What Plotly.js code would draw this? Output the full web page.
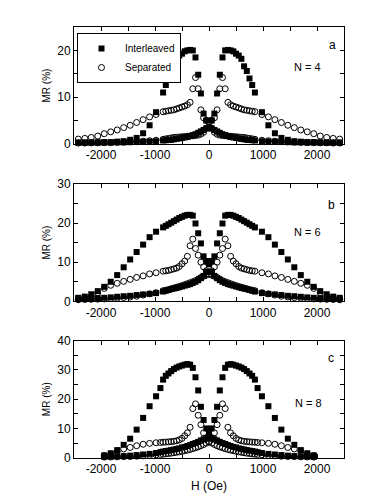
<!DOCTYPE html>
<html>
<head>
<meta charset="utf-8">
<script src="https://cdn.plot.ly/plotly-3.0.1.min.js"></script>
<style>html,body{margin:0;padding:0;background:#fff;}#chart{width:382px;height:494px;}</style>
</head>
<body>
<div id="chart"></div>
<script>
// Field grid (Oe) for panels a and b
var H_ab = [2420, 2300, 2180, 2060, 1940, 1820, 1700, 1580, 1460, 1340, 1220, 1100, 980,
  850, 800, 750, 700, 650, 600, 550, 500, 450, 400, 350, 300, 250, 200, 150, 100, 50,
  0,
  -50, -100, -150, -200, -250, -300, -350, -400, -450, -500, -550, -600, -650, -700, -750, -800, -850,
  -980, -1100, -1220, -1340, -1460, -1580, -1700, -1820, -1940, -2060, -2180, -2300, -2420];
// Field grid (Oe) for panel c
var H_c = [1940, 1820, 1700, 1580, 1460, 1340, 1220, 1100, 980,
  900, 850, 800, 750, 700, 650, 600, 550, 500, 450, 400, 350, 300, 250, 200, 150, 100, 50,
  0,
  -50, -100, -150, -200, -250, -300, -350, -400, -450, -500, -550, -600, -650, -700, -750, -800, -850, -900,
  -980, -1100, -1220, -1340, -1460, -1580, -1700, -1820, -1940];

// Panel a (N = 4)
var a_inter_down = [0.3,0.3,0.3,0.3,0.3,0.3,0.35,0.35,0.4,0.45,0.5,0.55,0.6,
  0.75,0.8,0.85,0.9,1.0,1.1,1.2,1.3,1.4,1.5,1.7,1.9,2.1,2.4,2.7,3.0,3.3,
  3.5,
  5.0,6.5,10.8,14.8,18.5,20.0,20.1,20.0,19.8,19.3,18.9,18.2,16.6,15.6,14.0,12.6,11.0,
  6.8,4.0,2.3,1.3,0.9,0.6,0.5,0.4,0.4,0.35,0.3,0.3,0.3];
var a_inter_up = [0.3,0.3,0.3,0.35,0.4,0.4,0.5,0.6,0.9,1.3,2.3,4.0,6.8,
  11.0,12.6,14.0,15.6,16.6,18.2,18.9,19.3,19.8,20.0,20.1,20.0,18.5,14.8,10.8,6.5,5.0,
  3.5,
  3.3,3.0,2.7,2.4,2.1,1.9,1.7,1.5,1.4,1.3,1.2,1.1,1.0,0.9,0.85,0.8,0.75,
  0.6,0.55,0.5,0.45,0.4,0.35,0.35,0.3,0.3,0.3,0.3,0.3,0.3];
var a_sep_down = [0.2,0.2,0.25,0.25,0.3,0.3,0.35,0.4,0.45,0.5,0.6,0.7,0.8,
  1.0,1.1,1.2,1.3,1.4,1.45,1.5,1.55,1.6,1.65,1.7,1.75,1.8,1.9,2.1,2.5,3.4,
  4.75,
  5.1,5.6,7.3,11.8,14.2,11.8,8.9,8.4,8.1,7.9,7.7,7.5,7.3,7.2,7.1,7.0,6.9,
  6.3,5.8,5.2,4.6,4.0,3.5,3.0,2.6,2.2,1.7,1.4,1.2,1.05];
var a_sep_up = [1.05,1.2,1.4,1.7,2.2,2.6,3.0,3.5,4.0,4.6,5.2,5.8,6.3,
  6.9,7.0,7.1,7.2,7.3,7.5,7.7,7.9,8.1,8.4,8.9,11.8,14.2,11.8,7.3,5.6,5.1,
  4.75,
  3.4,2.5,2.1,1.9,1.8,1.75,1.7,1.65,1.6,1.55,1.5,1.45,1.4,1.3,1.2,1.1,1.0,
  0.8,0.7,0.6,0.5,0.45,0.4,0.35,0.3,0.3,0.25,0.25,0.2,0.2];

// Panel b (N = 6)
var b_inter_down = [0.6,0.7,0.75,0.8,0.9,1.0,1.15,1.3,1.4,1.6,1.75,1.9,2.1,
  2.5,2.7,2.9,3.1,3.25,3.4,3.6,3.8,4.0,4.2,4.4,4.7,5.0,5.4,5.9,6.5,7.5,
  9.5,
  10.3,11.5,14.8,17.4,19.9,21.9,22.1,22.1,21.9,21.6,21.3,20.9,20.5,20.1,19.7,19.3,18.9,
  17.8,16.4,14.5,12.6,10.7,8.7,6.7,5.0,3.7,2.6,1.8,1.2,0.9];
var b_inter_up = [0.9,1.2,1.8,2.6,3.7,5.0,6.7,8.7,10.7,12.6,14.5,16.4,17.8,
  18.9,19.3,19.7,20.1,20.5,20.9,21.3,21.6,21.9,22.1,22.1,21.9,19.9,17.4,14.8,11.5,10.3,
  9.5,
  7.5,6.5,5.9,5.4,5.0,4.7,4.4,4.2,4.0,3.8,3.6,3.4,3.25,3.1,2.9,2.7,2.5,
  2.1,1.9,1.75,1.6,1.4,1.3,1.15,1.0,0.9,0.8,0.75,0.7,0.6];
var b_sep_down = [0.4,0.45,0.5,0.55,0.6,0.7,0.8,0.95,1.1,1.3,1.6,1.9,2.2,
  2.7,2.85,3.0,3.2,3.4,3.6,3.8,4.0,4.25,4.5,4.75,5.0,5.3,5.7,6.1,6.4,6.7,
  7.0,
  7.8,8.8,10.0,11.8,13.5,15.9,14.2,11.5,10.3,9.6,8.9,8.5,8.3,8.1,7.9,7.8,7.7,
  7.3,7.0,6.5,6.1,5.6,5.1,4.6,4.1,3.3,2.2,1.3,0.8,0.5];
var b_sep_up = [0.5,0.8,1.3,2.2,3.3,4.1,4.6,5.1,5.6,6.1,6.5,7.0,7.3,
  7.7,7.8,7.9,8.1,8.3,8.5,8.9,9.6,10.3,11.5,14.2,15.9,13.5,11.8,10.0,8.8,7.8,
  7.0,
  6.7,6.4,6.1,5.7,5.3,5.0,4.75,4.5,4.25,4.0,3.8,3.6,3.4,3.2,3.0,2.85,2.7,
  2.2,1.9,1.6,1.3,1.1,0.95,0.8,0.7,0.6,0.55,0.5,0.45,0.4];

// Panel c (N = 8)
var c_inter_down = [0.3,0.35,0.45,0.55,0.7,0.9,1.1,1.3,1.6,
  1.9,2.1,2.3,2.4,2.6,2.8,3.0,3.2,3.5,3.7,4.0,4.3,4.7,5.0,5.4,5.9,6.3,6.8,
  8.5,
  10.0,12.9,17.4,23.0,27.5,30.7,31.8,32.0,31.8,31.5,31.2,30.8,30.3,29.6,28.8,28.0,26.7,23.8,
  21.0,17.6,13.6,9.6,6.5,4.4,2.6,1.5,0.8];
var c_inter_up = [0.8,1.5,2.6,4.4,6.5,9.6,13.6,17.6,21.0,
  23.8,26.7,28.0,28.8,29.6,30.3,30.8,31.2,31.5,31.8,32.0,31.8,30.7,27.5,23.0,17.4,12.9,10.0,
  8.5,
  6.8,6.3,5.9,5.4,5.0,4.7,4.3,4.0,3.7,3.5,3.2,3.0,2.8,2.6,2.4,2.3,2.1,1.9,
  1.6,1.3,1.1,0.9,0.7,0.55,0.45,0.35,0.3];
var c_sep_down = [0.2,0.25,0.3,0.35,0.4,0.5,0.65,0.8,1.0,
  1.1,1.2,1.3,1.4,1.55,1.7,1.85,2.0,2.2,2.4,2.6,2.8,3.1,3.4,3.7,4.1,4.5,5.0,
  5.5,
  6.5,8.5,11.3,14.5,18.4,16.8,10.4,8.5,7.5,6.6,6.1,5.8,5.6,5.5,5.4,5.35,5.3,5.2,
  5.1,4.9,4.6,4.1,3.5,3.0,2.2,1.3,0.7];
var c_sep_up = [0.7,1.3,2.2,3.0,3.5,4.1,4.6,4.9,5.1,
  5.2,5.3,5.35,5.4,5.5,5.6,5.8,6.1,6.6,7.5,8.5,10.4,16.8,18.4,14.5,11.3,8.5,6.5,
  5.5,
  5.0,4.5,4.1,3.7,3.4,3.1,2.8,2.6,2.4,2.2,2.0,1.85,1.7,1.55,1.4,1.3,1.2,1.1,
  1.0,0.8,0.65,0.5,0.4,0.35,0.3,0.25,0.2];

var seriesNames = ["Interleaved", "Separated"];
var panelLabels = ["a", "b", "c"];
var panelN = ["N = 4", "N = 6", "N = 8"];
var xTickVals = [-2500, -2000, -1500, -1000, -500, 0, 500, 1000, 1500, 2000, 2500];
var xTickText = ["", "-2000", "", "-1000", "", "0", "", "1000", "", "2000", ""];
var yTickVals_a = [0, 5, 10, 15, 20, 25];
var yTickText_a = ["0", "", "10", "", "20", ""];
var yTickVals_b = [0, 5, 10, 15, 20, 25, 30];
var yTickText_b = ["0", "", "10", "", "20", "", "30"];
var yTickVals_c = [0, 5, 10, 15, 20, 25, 30, 35, 40];
var yTickText_c = ["0", "", "10", "", "20", "", "30", "", "40"];

var FONT = "Arial, 'Liberation Sans', Helvetica, sans-serif";
var sq = {symbol: "square", size: 6, color: "#000"};
var ci = {symbol: "circle-open", size: 6, color: "#000", line: {width: 1, color: "#000"}};

function tr(x, y, xa, ya, marker, name, showleg) {
  return {x: x, y: y, xaxis: xa, yaxis: ya, type: "scatter", mode: "markers",
    marker: marker, name: name, legendgroup: name, showlegend: showleg, cliponaxis: false,
    hoverinfo: "skip"};
}

var data = [
  tr(H_ab, a_inter_down, "x", "y", sq, seriesNames[0], true),
  tr(H_ab, a_sep_down, "x", "y", ci, seriesNames[1], true),
  tr(H_ab, a_inter_up, "x", "y", sq, seriesNames[0], false),
  tr(H_ab, a_sep_up, "x", "y", ci, seriesNames[1], false),
  tr(H_ab, b_inter_down, "x2", "y2", sq, seriesNames[0], false),
  tr(H_ab, b_inter_up, "x2", "y2", sq, seriesNames[0], false),
  tr(H_ab, b_sep_down, "x2", "y2", ci, seriesNames[1], false),
  tr(H_ab, b_sep_up, "x2", "y2", ci, seriesNames[1], false),
  tr(H_c, c_inter_down, "x3", "y3", sq, seriesNames[0], false),
  tr(H_c, c_inter_up, "x3", "y3", sq, seriesNames[0], false),
  tr(H_c, c_sep_down, "x3", "y3", ci, seriesNames[1], false),
  tr(H_c, c_sep_up, "x3", "y3", ci, seriesNames[1], false)
];

var xdom = [74/382, 344/382];
function xax(anchor, title) {
  var o = {domain: xdom, range: [-2500, 2500], anchor: anchor, tickmode: "array",
    tickvals: xTickVals, ticktext: xTickText, ticks: "inside", ticklen: 4, tickcolor: "#000",
    mirror: "ticks", showline: true, linecolor: "#000", linewidth: 1, showgrid: false, zeroline: false,
    tickfont: {family: FONT, size: 12, color: "#000"}, fixedrange: true};
  if (title) o.title = {text: title, font: {family: FONT, size: 12, color: "#000"}, standoff: 6};
  return o;
}
function yax(anchor, dom, rng, tv, tt) {
  return {domain: dom, range: rng, anchor: anchor, tickmode: "array", tickvals: tv, ticktext: tt,
    ticks: "inside", ticklen: 4, tickcolor: "#000", mirror: "ticks", showline: true,
    linecolor: "#000", linewidth: 1, showgrid: false, zeroline: false,
    tickfont: {family: FONT, size: 12, color: "#000"},
    title: {text: "MR (%)", font: {family: FONT, size: 10, color: "#000"}, standoff: 4},
    fixedrange: true};
}

function ann(x, y, text, size) {
  return {xref: "paper", yref: "paper", x: x, y: y, text: text, showarrow: false,
    xanchor: "center", yanchor: "middle", font: {family: FONT, size: size, color: "#000"}};
}

var layout = {
  width: 382, height: 494,
  margin: {l: 0, r: 0, t: 0, b: 0},
  paper_bgcolor: "#fff", plot_bgcolor: "#fff",
  font: {family: FONT, color: "#000"},
  showlegend: true,
  legend: {x: 77/382, y: 1 - 33/494, xanchor: "left", yanchor: "top", bgcolor: "#fff",
    bordercolor: "#000", borderwidth: 1, font: {family: FONT, size: 10, color: "#000"},
    itemwidth: 37, tracegroupgap: 0},
  xaxis: xax("y"),
  xaxis2: xax("y2"),
  xaxis3: xax("y3", "H (Oe)"),
  yaxis: yax("x", [1 - 144/494, 1 - 27/494], [0, 25], yTickVals_a, yTickText_a),
  yaxis2: yax("x2", [1 - 301.3/494, 1 - 184/494], [0, 30], yTickVals_b, yTickText_b),
  yaxis3: yax("x3", [1 - 457.7/494, 1 - 340.7/494], [0, 40], yTickVals_c, yTickText_c),
  annotations: [
    ann(332/382, 1 - 45/494, panelLabels[0], 12),
    ann(307/382, 1 - 67/494, panelN[0], 11),
    ann(331/382, 1 - 205/494, panelLabels[1], 12),
    ann(307/382, 1 - 232/494, panelN[1], 11),
    ann(331/382, 1 - 358/494, panelLabels[2], 12),
    ann(308/382, 1 - 403/494, panelN[2], 11)
  ]
};

Plotly.newPlot("chart", data, layout, {staticPlot: true, displayModeBar: false});
</script>
</body>
</html>
